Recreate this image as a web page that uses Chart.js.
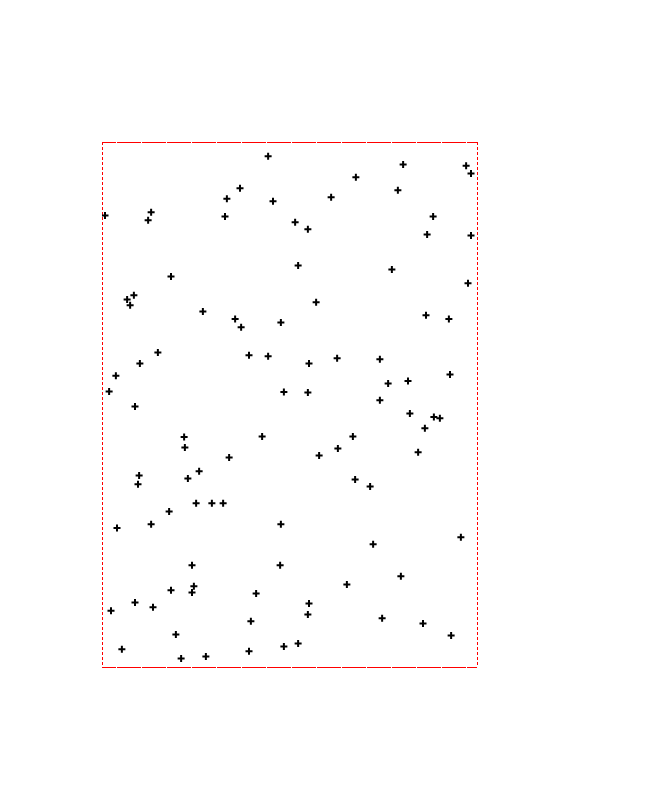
<!DOCTYPE html>
<html>
<head>
<meta charset="utf-8">
<script src="https://cdn.jsdelivr.net/npm/chart.js@4/dist/chart.umd.min.js"></script>
<style>
  html, body { margin: 0; padding: 0; background: #fff; }
  canvas { display: block; }
</style>
</head>
<body>
<canvas id="scatterChart" width="650" height="800"></canvas>
<script>
// point positions (axis range 0..100 both ways)
const xValues = [
    44.3, 36.8, 33.3, 45.6, 0.8, 13.1, 12.3, 32.8, 18.4, 8.5,
    6.7, 7.5, 26.9, 35.5, 80.3, 97.1, 98.4, 67.7, 78.9, 61.1,
    88.3, 51.5, 54.9, 86.7, 98.4, 52.3, 77.3, 97.6, 57.1, 86.4,
    92.5, 47.7, 37.1, 14.9, 39.2, 44.3, 10.1, 3.7, 1.9, 48.5,
    8.8, 21.9, 42.7, 22.1, 33.9, 25.9, 9.9, 22.9, 9.6, 55.2,
    62.7, 74.1, 92.8, 76.3, 81.6, 54.9, 74.1, 82.1, 88.5, 90.1,
    86.1, 66.9, 62.9, 57.9, 84.3, 67.5, 71.5, 25.1, 29.3, 32.3,
    17.9, 4.0, 13.1, 47.7, 24.0, 47.5, 24.5, 18.4, 24.0, 41.1,
    8.8, 13.6, 2.4, 39.7, 19.7, 5.3, 39.2, 48.5, 21.1, 27.7,
    72.3, 95.7, 79.7, 65.3, 55.2, 54.9, 74.7, 85.6, 93.1, 52.3
];
const yValues = [
    97.3, 91.2, 89.2, 88.7, 86.0, 86.6, 85.1, 85.8, 74.4, 70.8,
    70.0, 68.9, 67.7, 66.3, 95.7, 95.5, 94.0, 93.3, 90.8, 89.5,
    85.8, 84.7, 83.4, 82.4, 82.2, 76.5, 75.7, 73.1, 69.5, 67.0,
    66.3, 65.6, 64.7, 59.9, 59.4, 59.2, 57.8, 55.5, 52.5, 52.4,
    49.6, 43.8, 43.9, 41.8, 39.9, 37.3, 36.5, 35.9, 34.8, 57.8,
    58.8, 58.6, 55.7, 54.0, 54.5, 52.3, 50.8, 48.3, 47.6, 47.4,
    45.5, 43.9, 41.6, 40.3, 40.9, 35.7, 34.4, 31.2, 31.2, 31.2,
    29.6, 26.5, 27.2, 27.2, 19.4, 19.4, 15.4, 14.6, 14.2, 14.0,
    12.3, 11.4, 10.7, 8.7, 6.2, 3.4, 3.0, 3.9, 1.6, 2.0,
    23.4, 24.7, 17.3, 15.7, 12.1, 10.0, 9.3, 8.3, 6.0, 4.5
];
const xRange = [0, 100];
const yRange = [0, 100];

const points = xValues.map((x, i) => ({ x: x, y: yValues[i] }));

// frame is drawn as two dashed grid lines per axis, one at each end
function frameAxis(position, range, dash, dashOffset) {
    return {
        type: "linear",
        position: position,
        min: range[0],
        max: range[1],
        afterBuildTicks: (scale) => {
            scale.ticks = [{ value: range[0] }, { value: range[1] }];
        },
        grid: { display: true, color: "#ff0000", lineWidth: 1, drawTicks: false },
        ticks: { display: false },
        border: { display: false, dash: dash, dashOffset: dashOffset }
    };
}

const ctx = document.getElementById("scatterChart").getContext("2d");
new Chart(ctx, {
    type: "scatter",
    data: {
        datasets: [{
            data: points,
            pointStyle: "cross",
            pointRadius: 3.5,
            pointHoverRadius: 3.5,
            pointBorderWidth: 2,
            borderColor: "#000000",
            backgroundColor: "#000000"
        }]
    },
    options: {
        responsive: false,
        animation: false,
        layout: { padding: { left: 102, top: 142, right: 173, bottom: 133 } },
        plugins: {
            legend: { display: false },
            tooltip: { enabled: false }
        },
        scales: {
            x: frameAxis("bottom", xRange, [3, 2], 0),
            y: frameAxis("left", yRange, [24, 1], 10)
        }
    }
});
</script>
</body>
</html>
